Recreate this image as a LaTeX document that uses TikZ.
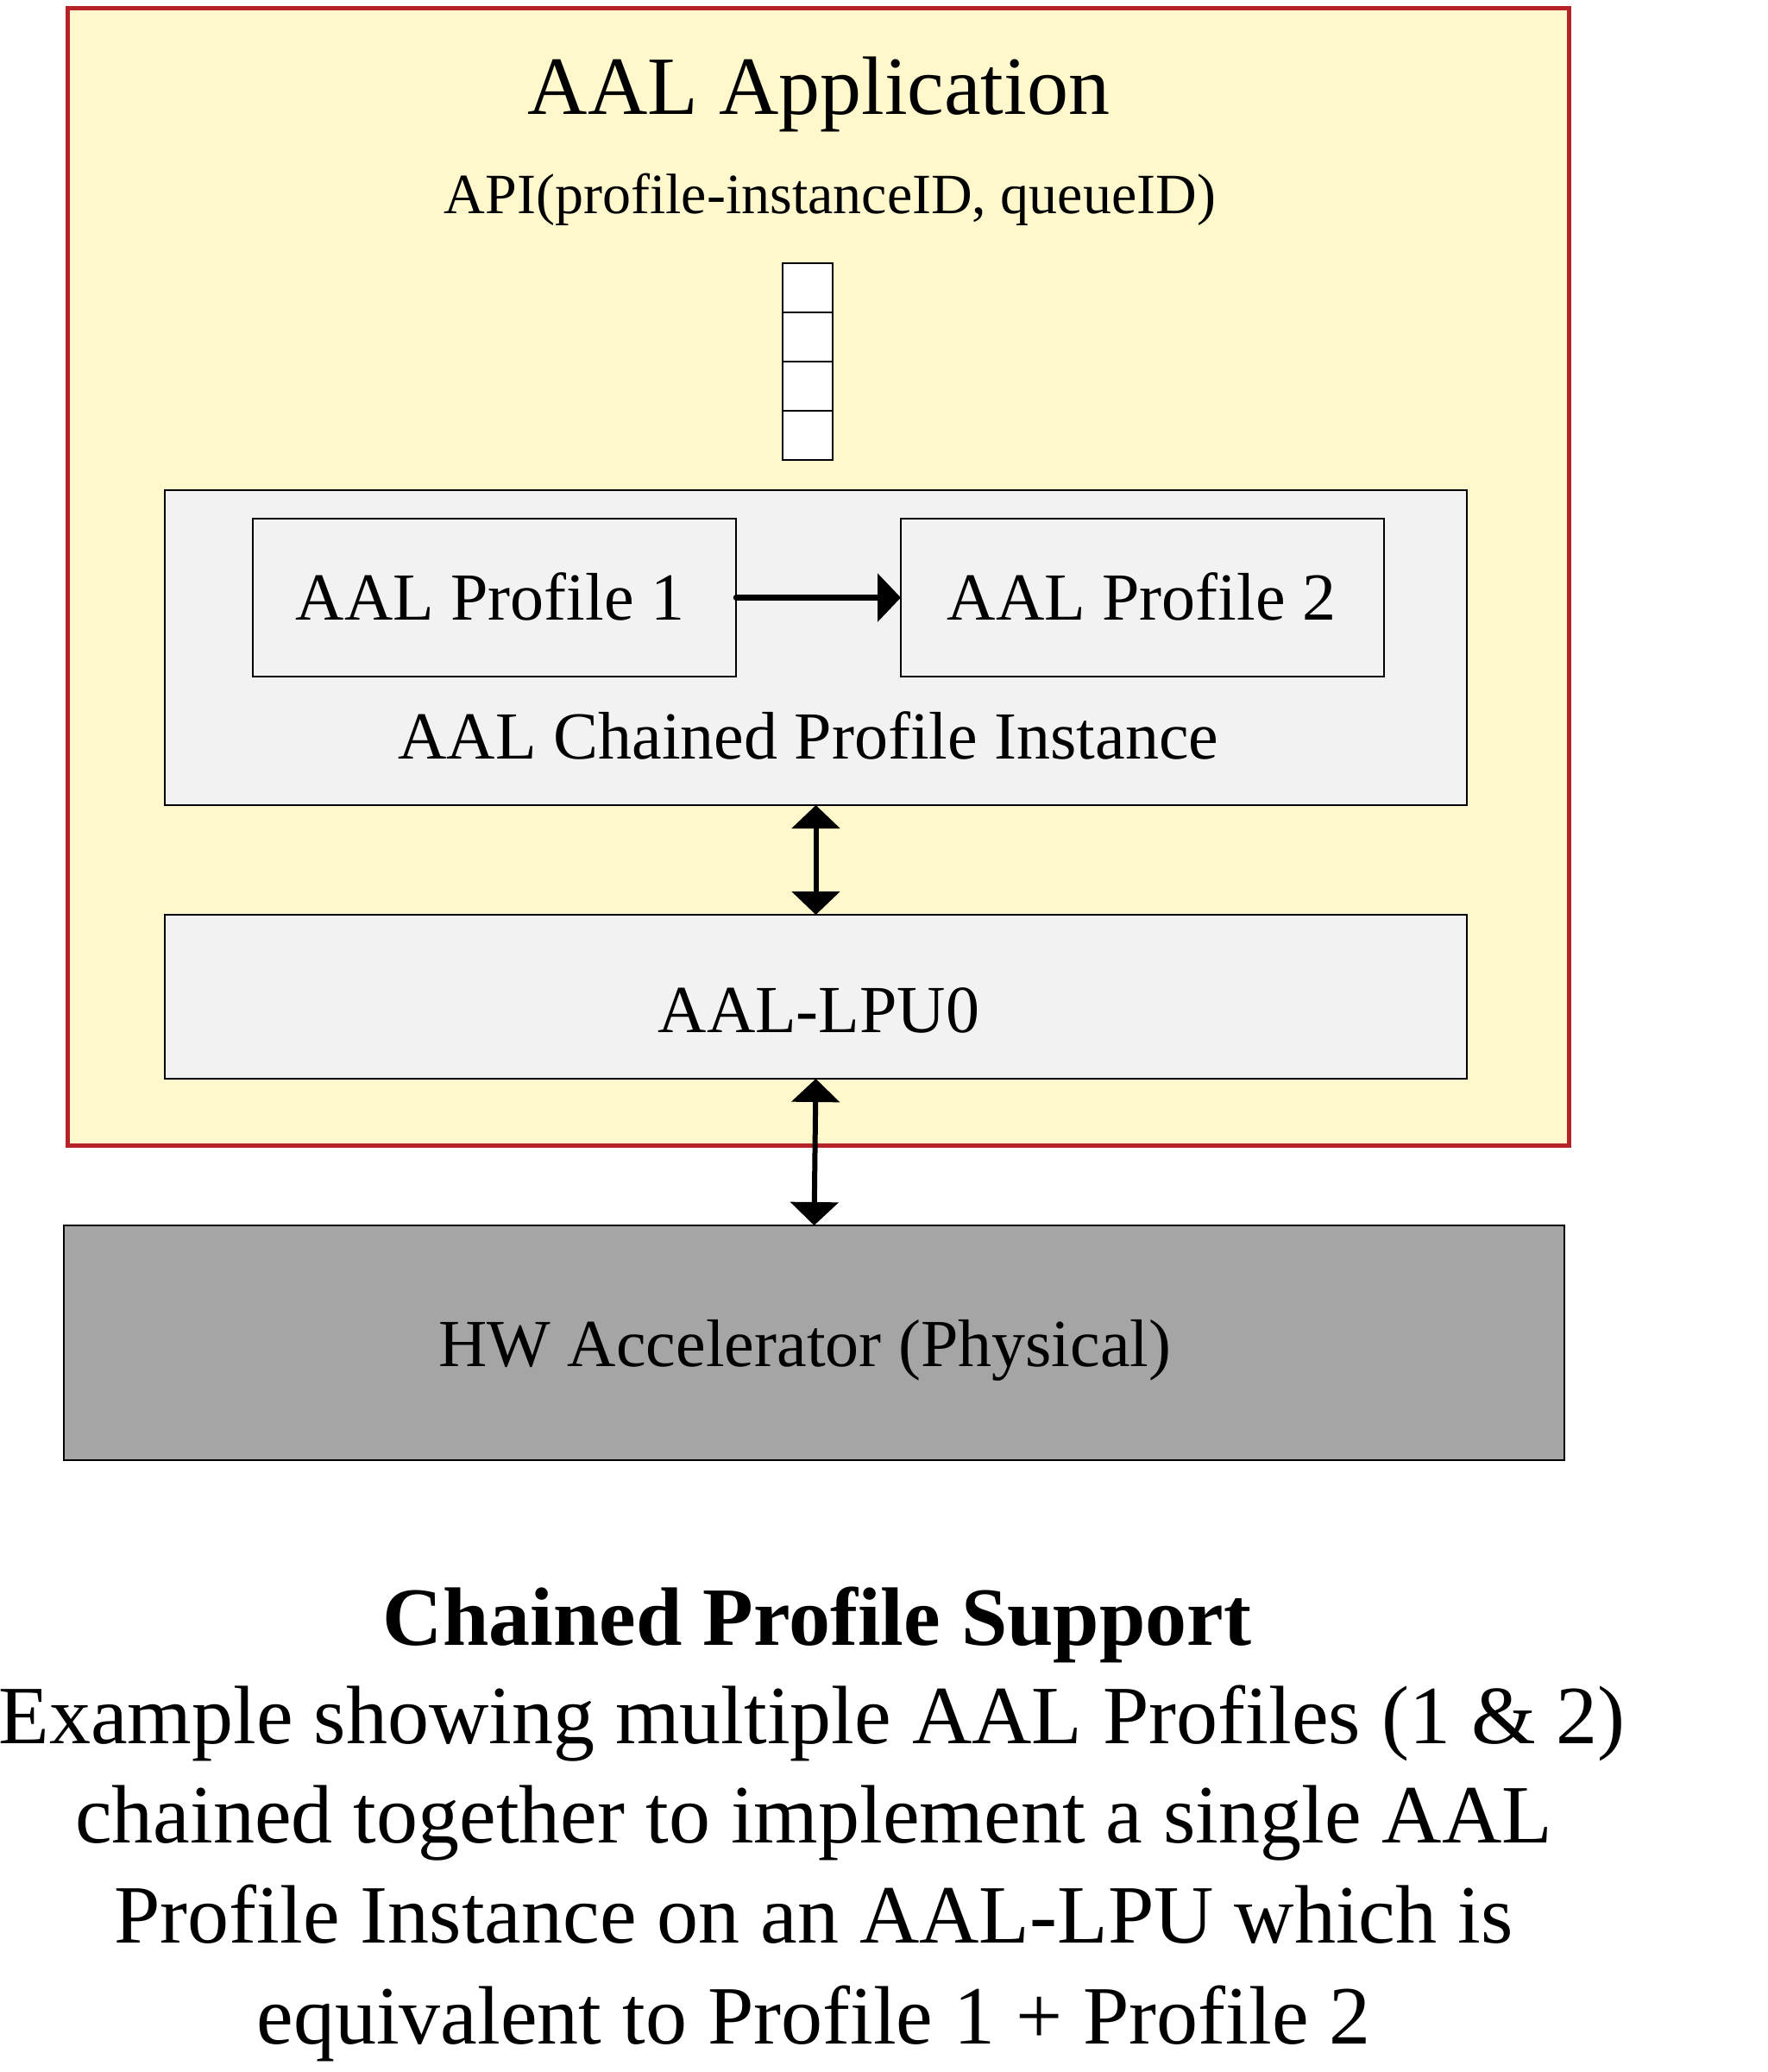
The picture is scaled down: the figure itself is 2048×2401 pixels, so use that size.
\documentclass[tikz,border=0pt]{standalone}
\usepackage{fontspec}
\setmainfont{Liberation Serif}
\usetikzlibrary{arrows.meta}
\definecolor{appyellow}{HTML}{FFF8CD}
\definecolor{appred}{HTML}{B52227}
\definecolor{boxgray}{HTML}{F2F2F2}
\definecolor{hwgray}{HTML}{A5A5A5}
\tikzset{
  plainbox/.style={draw=black, line width=1.6pt, fill=boxgray, inner sep=0pt, outer sep=0pt},
  qcell/.style={draw=black, line width=2pt, fill=white, inner sep=0pt, outer sep=0pt, minimum width=58pt, minimum height=57pt},
  lbl/.style={anchor=base, inner sep=0pt, outer sep=0pt},
  onearr/.style={line width=6.5pt, line cap=round, -{Triangle[width=55pt,length=27pt]}},
  twoarr/.style={line width=6pt, {Triangle[width=55pt,length=27pt]}-{Triangle[width=55pt,length=27pt]}},
}
\begin{document}
\begin{tikzpicture}[x=1pt,y=-1pt]
\useasboundingbox (0,0) rectangle (2048,2401);
% outer application box
\node[draw=appred, line width=5pt, fill=appyellow, inner sep=0pt, outer sep=0pt,
      minimum width=1739.5pt, minimum height=1318pt] (app) at (948.25,668) {};
\node[lbl, font=\fontsize{96}{110}\selectfont] (apptitle) at (949,132) {AAL Application};
\node[lbl, font=\fontsize{66}{76}\selectfont] (api) at (962,247) {API(profile-instanceID, queueID)};
% queue
\node[qcell] (q1) at (936,333.5) {};
\node[qcell] (q2) at (936,390.5) {};
\node[qcell] (q3) at (936,447.5) {};
\node[qcell] (q4) at (936,504.5) {};
% chained profile instance
\node[plainbox, minimum width=1509pt, minimum height=365pt] (chained) at (945.5,750.5) {};
\node[plainbox, minimum width=560pt, minimum height=183pt] (p1) at (573,692.5) {};
\node[plainbox, minimum width=560pt, minimum height=183pt] (p2) at (1324,692.5) {};
\node[lbl, font=\fontsize{78}{90}\selectfont] (p1text) at (568,718) {AAL Profile 1};
\node[lbl, font=\fontsize{78}{90}\selectfont] (p2text) at (1323,718) {AAL Profile 2};
\node[lbl, font=\fontsize{78}{90}\selectfont] (chainedtext) at (937,879) {AAL Chained Profile Instance};
% LPU
\node[plainbox, minimum width=1509pt, minimum height=190pt] (lpu) at (945.5,1155) {};
\node[lbl, font=\fontsize{78}{90}\selectfont] (lputext) at (949,1196) {AAL-LPU0};
% HW accelerator
\node[draw=black, line width=1.6pt, fill=hwgray, inner sep=0pt, outer sep=0pt,
      minimum width=1739pt, minimum height=272pt] (hw) at (943.5,1556) {};
\node[lbl, font=\fontsize{78}{90}\selectfont] (hwtext) at (933,1583) {HW Accelerator (Physical)};
% connectors
\draw[onearr] (p1.east) -- (p2.west);
\draw[twoarr] (chained.south) -- (lpu.north);
\draw[twoarr] (lpu.south) -- (hw.north);
% caption
\node[lbl, font=\fontsize{96}{110}\selectfont\bfseries] (cap0) at (947,1906) {Chained Profile Support};
\node[lbl, font=\fontsize{96}{110}\selectfont] (cap1) at (941,2020) {Example showing multiple AAL Profiles (1 \& 2)};
\node[lbl, font=\fontsize{96}{110}\selectfont] (cap2) at (943,2135) {chained together to implement a single AAL};
\node[lbl, font=\fontsize{96}{110}\selectfont] (cap3) at (943,2251) {Profile Instance on an AAL-LPU which is};
\node[lbl, font=\fontsize{96}{110}\selectfont] (cap4) at (943,2368) {equivalent to Profile 1 + Profile 2};
\end{tikzpicture}
\end{document}
